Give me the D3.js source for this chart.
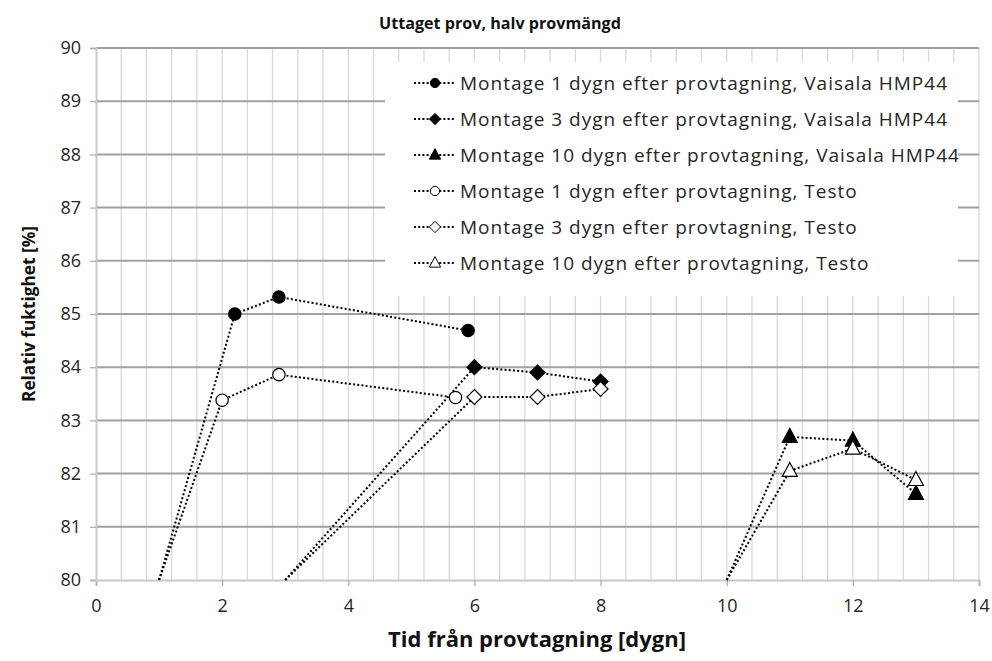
<!DOCTYPE html>
<html>
<head>
<meta charset="utf-8">
<script src="https://cdn.jsdelivr.net/npm/d3@7"></script>
<style>
  html, body { margin: 0; padding: 0; background: #fff; }
  svg { display: block; font-family: "Open Sans", Lato, sans-serif; }
</style>
</head>
<body>
<svg id="chart" width="992" height="661"></svg>
<script>
// Relative humidity after sampling, half sample amount
const seriesNames = [
  "Montage 1 dygn efter provtagning, Vaisala HMP44",
  "Montage 3 dygn efter provtagning, Vaisala HMP44",
  "Montage 10 dygn efter provtagning, Vaisala HMP44",
  "Montage 1 dygn efter provtagning, Testo",
  "Montage 3 dygn efter provtagning, Testo",
  "Montage 10 dygn efter provtagning, Testo"
];
const markerShapes = ["circle", "diamond", "triangle", "circle", "diamond", "triangle"];
const markerFilled = [true, true, true, false, false, false];

// x = days since sampling, y = RH [%]; the first point of each series is the mounting day
const xV1 = [1, 2.2, 2.9, 5.9];
const yV1 = [80, 85.0, 85.32, 84.69];
const xV3 = [3, 6, 7, 8];
const yV3 = [80, 84.0, 83.9, 83.73];
const xV10 = [10, 11, 12, 13];
const yV10 = [80, 82.69, 82.62, 81.62];
const xT1 = [1, 2.0, 2.9, 5.7];
const yT1 = [80, 83.38, 83.86, 83.43];
const xT3 = [3, 6, 7, 8];
const yT3 = [80, 83.44, 83.44, 83.59];
const xT10 = [10, 11, 12, 13];
const yT10 = [80, 82.05, 82.47, 81.88];

const xTicks = [0, 2, 4, 6, 8, 10, 12, 14];
const yTicks = [80, 81, 82, 83, 84, 85, 86, 87, 88, 89, 90];

const chartTitle = "Uttaget prov, halv provmängd";
const xTitle = "Tid från provtagning [dygn]";
const yTitle = "Relativ fuktighet [%]";

const seriesX = [xV1, xV3, xV10, xT1, xT3, xT10];
const seriesY = [yV1, yV3, yV10, yT1, yT3, yT10];
const series = seriesNames.map((name, i) => ({
  name, shape: markerShapes[i], filled: markerFilled[i],
  points: seriesX[i].map((x, j) => ({ x, y: seriesY[i][j] }))
}));

const svg = d3.select("#chart");
const plotL = 96, plotR = 979, plotT = 48, plotB = 580;

const x = d3.scaleLinear().domain([0, 14]).range([plotL, plotR]);
const y = d3.scaleLinear().domain([80, 90]).range([plotB, plotT]);

// minor vertical gridlines every 0.4 days
const minorX = d3.range(1, 36).map(i => i * 0.4);
svg.append("g").selectAll("line").data(minorX).join("line")
  .attr("x1", d => x(d)).attr("x2", d => x(d))
  .attr("y1", plotT).attr("y2", plotB)
  .attr("stroke", "#d9d9d9").attr("stroke-width", 1.3);

// major horizontal gridlines
svg.append("g").selectAll("line").data(yTicks.filter(v => v > 80)).join("line")
  .attr("x1", plotL).attr("x2", plotR)
  .attr("y1", d => y(d)).attr("y2", d => y(d))
  .attr("stroke", "#a0a0a0").attr("stroke-width", 2);

// axes
const xAxis = d3.axisBottom(x).tickValues(xTicks).tickSize(6).tickPadding(13).tickFormat(d3.format("d"));
const yAxis = d3.axisLeft(y).tickValues(yTicks).tickSize(6).tickPadding(9).tickFormat(d3.format("d"));

const gx = svg.append("g").attr("transform", `translate(0,${plotB})`).call(xAxis);
const gy = svg.append("g").attr("transform", `translate(${plotL},0)`).call(yAxis);
[gx, gy].forEach(g => {
  g.select(".domain").attr("stroke", "#c8c8c8").attr("stroke-width", 2);
  g.selectAll(".tick line").attr("stroke", "#b0b0b0").attr("stroke-width", 1.3);
  g.selectAll(".tick text").attr("fill", "#262626").style("font-size", "18px")
    .style("font-family", "'Open Sans', sans-serif");
});

// lines
const line = d3.line().x(d => x(d.x)).y(d => y(d.y));
const dash = "2,2.2";
svg.append("g").selectAll("path").data(series).join("path")
  .attr("d", d => line(d.points))
  .attr("fill", "none").attr("stroke", "#000").attr("stroke-width", 2)
  .attr("stroke-dasharray", dash);

function shapePath(shape) {
  if (shape === "circle") return d3.symbol(d3.symbolCircle, 120)();
  if (shape === "diamond") return "M0,-7.5L7.5,0L0,7.5L-7.5,0Z";
  return "M0,-8.5L7.5,5.5L-7.5,5.5Z";
}

// markers (the mounting-day point carries no marker)
series.forEach(s => {
  svg.append("g").selectAll("path").data(s.points.slice(1)).join("path")
    .attr("transform", d => `translate(${x(d.x)},${y(d.y)})`)
    .attr("d", shapePath(s.shape))
    .attr("fill", s.filled ? "#000" : "#fff")
    .attr("stroke", "#000").attr("stroke-width", 1.2);
});

// legend
const lgX = 385, lgY = 62, lgW = 573, lgH = 234, rowH = 36;
const lg = svg.append("g");
lg.append("rect").attr("x", lgX).attr("y", lgY).attr("width", lgW).attr("height", lgH).attr("fill", "#fff");
const lgTexts = [];
series.forEach((s, i) => {
  const cy = 83 + i * rowH;
  lg.append("line").attr("x1", 414).attr("x2", 456).attr("y1", cy).attr("y2", cy)
    .attr("stroke", "#000").attr("stroke-width", 2).attr("stroke-dasharray", dash);
  lg.append("path").attr("transform", `translate(435,${cy}) scale(0.75)`)
    .attr("d", shapePath(s.shape))
    .attr("fill", s.filled ? "#000" : "#fff")
    .attr("stroke", "#000").attr("stroke-width", 1.3);
  lgTexts.push(lg.append("text").attr("x", 460).attr("y", cy).attr("dy", "0.36em")
    .attr("fill", "#262626").style("font-size", "19px").text(s.name));
});
// a touch of tracking so the longest entry reaches the legend's right margin
const firstLen = lgTexts[0].node().getComputedTextLength();
const spacing = Math.max(0, (488 - firstLen) / seriesNames[0].length);
lgTexts.forEach(t => t.style("letter-spacing", spacing + "px"));

// titles, sized to their line width
function fitSize(sel, size, width) {
  sel.style("font-size", size + "px");
  const w = sel.node().getComputedTextLength();
  sel.style("font-size", (size * width / w) + "px");
  return sel;
}
fitSize(svg.append("text").attr("x", 500).attr("y", 29).attr("text-anchor", "middle")
  .style("font-weight", "bold").attr("fill", "#111").text(chartTitle), 15, 242);
fitSize(svg.append("text").attr("x", 537).attr("y", 647).attr("text-anchor", "middle")
  .style("font-weight", "bold").attr("fill", "#111").text(xTitle), 17, 298);
fitSize(svg.append("text").attr("transform", "translate(35,314) rotate(-90)").attr("text-anchor", "middle")
  .style("font-weight", "bold").attr("fill", "#111").text(yTitle), 16, 176);
</script>
</body>
</html>
